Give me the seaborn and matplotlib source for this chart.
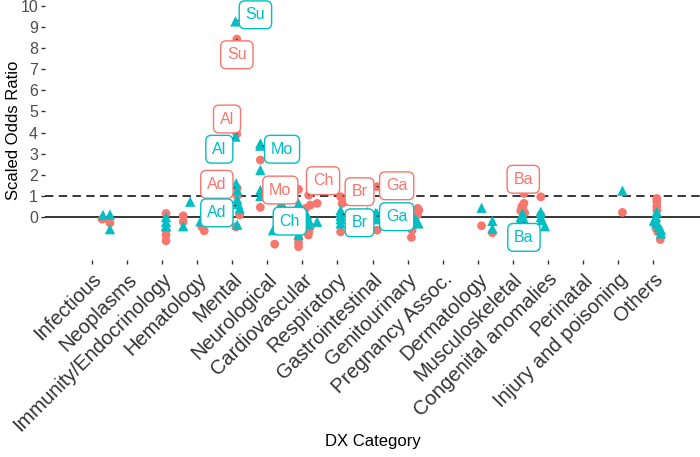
import numpy as np
import pandas as pd
import seaborn as sns
from matplotlib import pyplot as plt

categories = [
    "Infectious", "Neoplasms", "Immunity/Endocrinology", "Hematology", "Mental",
    "Neurological", "Cardiovascular", "Respiratory", "Gastrointestinal",
    "Genitourinary", "Pregnancy Assoc.", "Dermatology", "Musculoskeletal",
    "Congenital anomalies", "Perinatal", "Injury and poisoning", "Others",
]

# red series (circles): category, jitter, scaled odds ratio
red_cat = (["Infectious"] * 2 + ["Immunity/Endocrinology"] * 4 + ["Hematology"] * 4
           + ["Mental"] * 6 + ["Neurological"] * 3 + ["Cardiovascular"] * 12
           + ["Respiratory"] * 4 + ["Gastrointestinal"] * 2 + ["Genitourinary"] * 5
           + ["Dermatology"] * 2 + ["Musculoskeletal"] * 6 + ["Congenital anomalies"] * 2
           + ["Injury and poisoning"] + ["Others"] * 7)
red_jit = [0.29, 0.51,
           0.11, 0.11, 0.11, 0.11,
           -0.40, -0.40, 0.13, 0.20,
           0.13, 0.13, 0.14, 0.14, 0.21, 0.11,
           -0.20, -0.20, 0.21,
           -0.11, -0.11, 0.18, 0.23, 0.42, 0.09, -0.11, -0.11, -0.11, 0.23, 0.18, 0.17,
           0.09, 0.13, 0.28, 0.09,
           0.13, 0.13,
           0.32, 0.28, 0.13, 0.11, 0.29,
           0.11, 0.42,
           0.32, 0.32, 0.26, 0.29, 0.23, 0.34,
           -0.20, -0.20,
           0.13,
           0.11, 0.11, 0.11, 0.11, 0.09, 0.21, 0.14]
red_or = [-0.10, -0.27,
          0.17, -0.62, -0.85, -1.12,
          0.06, -0.22, -0.46, -0.65,
          8.42, 3.93, 1.36, 1.00, 0.10, -0.46,
          2.70, 0.46, -1.28,
          1.31, 0.41, 1.04, 0.57, 0.65, 0.41, -1.00, -1.20, -1.40, -0.46, -0.70, -0.85,
          0.96, 0.65, 0.73, -0.70,
          1.44, -0.62,
          0.33, 0.10, -0.62, -0.96, 0.41,
          -0.41, -0.74,
          1.12, 0.65, 0.50, 0.40, 0.30, 0.20,
          0.96, 0.10,
          0.22,
          0.88, 0.73, 0.52, 0.33, -0.54, -1.06, -0.70]

# teal series (triangles)
teal_cat = (["Infectious"] * 3 + ["Immunity/Endocrinology"] * 3 + ["Hematology"] * 3
            + ["Mental"] * 8 + ["Neurological"] * 7 + ["Cardiovascular"] * 8
            + ["Respiratory"] * 5 + ["Gastrointestinal"] * 5 + ["Genitourinary"] * 4
            + ["Dermatology"] * 3 + ["Musculoskeletal"] * 5 + ["Congenital anomalies"] * 4
            + ["Injury and poisoning"] + ["Others"] * 8)
teal_jit = [0.31, 0.51, 0.51,
            0.11, 0.11, 0.11,
            -0.40, -0.20, 0.09,
            0.09, 0.09, 0.11, 0.14, 0.14, 0.17, 0.21, 0.14,
            -0.20, -0.20, -0.20, -0.20, -0.20, 0.16, 0.40,
            -0.11, 0.13, 0.18, 0.42, -0.11, -0.06, 0.17, -0.11,
            0.09, 0.09, 0.09, 0.09, 0.09,
            -0.15, 0.13, 0.13, 0.13, 0.09,
            0.28, 0.23, 0.31, 0.17,
            0.11, 0.42, 0.42,
            0.28, 0.23, 0.31, 0.37, 0.20,
            -0.20, -0.20, -0.08, -0.17,
            0.13,
            0.11, 0.09, 0.03, 0.11, 0.17, 0.23, 0.23, 0.06]
teal_or = [0.10, 0.12, -0.57,
           0.00, -0.22, -0.43,
           -0.43, 0.73, -0.20,
           9.26, 3.81, 1.60, 1.28, 0.84, 0.62, 0.41, -0.36,
           3.49, 3.38, 2.23, 1.28, 1.00, -0.62, 0.70,
           0.65, 0.10, -0.14, -0.22, -0.85, 0.00, -0.35, -0.50,
           0.33, 0.20, 0.05, -0.10, -0.30,
           0.25, 0.17, 0.05, -0.10, 0.20,
           -0.22, -0.10, -0.30, -0.20,
           0.44, -0.18, -0.54,
           0.17, 0.00, -0.10, -0.27, -0.20,
           0.25, 0.00, -0.43, -0.15,
           1.25,
           0.25, 0.00, -0.15, -0.30, -0.45, -0.60, -0.77, -0.20]

# repelled labels: text, series, category, jitter and value of labelled point, box offset
lab_text = ["Su", "Su", "Al", "Al", "Ad", "Ad", "Mo", "Mo", "Ch", "Ch",
            "Br", "Br", "Ga", "Ga", "Ba", "Ba"]
lab_group = ["teal", "red", "red", "teal", "red", "teal", "teal", "red", "teal", "red",
             "red", "teal", "red", "teal", "red", "teal"]
lab_cat = ["Mental", "Mental", "Mental", "Mental", "Mental", "Mental",
           "Neurological", "Neurological", "Cardiovascular", "Cardiovascular",
           "Respiratory", "Respiratory", "Gastrointestinal", "Gastrointestinal",
           "Musculoskeletal", "Musculoskeletal"]
lab_jit = [0.09, 0.13, 0.13, 0.09, 0.14, 0.17, -0.20, 0.37, 0.13, 0.18,
           0.09, 0.09, 0.13, 0.13, 0.32, 0.32]
lab_val = [9.26, 8.42, 3.93, 3.81, 1.36, 0.62, 3.38, 1.28, 0.10, 1.04,
           0.96, 0.20, 1.44, 0.05, 1.12, -0.27]
lab_dx = [0.57, 0.0, -0.28, -0.46, -0.58, -0.61, 0.62, 0.0, -0.49, 0.41,
          0.54, 0.54, 0.56, 0.56, -0.02, 0.0]
lab_dy = [0.31, -0.74, 0.71, -0.60, 0.19, -0.42, -0.17, 0.0, -0.29, 0.68,
          0.24, -0.47, 0.04, -0.03, 0.67, -0.69]

colors = {"red": "#F8766D", "teal": "#00BFC4"}

df = pd.concat([
    pd.DataFrame({"cat": red_cat, "jit": red_jit, "or": red_or, "group": "red"}),
    pd.DataFrame({"cat": teal_cat, "jit": teal_jit, "or": teal_or, "group": "teal"}),
])
df["xpos"] = df["cat"].map(categories.index) + df["jit"]

sns.set_style("ticks")
plt.rcParams["font.family"] = ["Liberation Sans", "DejaVu Sans"]

fig = plt.figure(figsize=(7, 4.57), dpi=100)
ax = fig.add_axes([45 / 700, 1 - 260 / 457, 655 / 700, 260 / 457])

ax.axhline(0, color="black", lw=1.1, zorder=1)
ax.axhline(1, color="black", lw=1.1, ls=(0, (5.5, 3.5)), zorder=1)

sns.scatterplot(
    data=df, x="xpos", y="or", hue="group", style="group", size="group",
    palette=colors, markers={"red": "o", "teal": "^"}, sizes={"red": 40, "teal": 55},
    linewidth=0, alpha=1, legend=False, ax=ax, zorder=2,
)

for txt, grp, cat, jit, val, dx, dy in zip(lab_text, lab_group, lab_cat, lab_jit,
                                          lab_val, lab_dx, lab_dy):
    px = categories.index(cat) + jit
    show_seg = not (dx == 0 and dy == 0)
    ax.annotate(
        txt, xy=(px, val), xytext=(px + dx, val + dy),
        ha="center", va="center", fontsize=11.5, color=colors[grp], zorder=5,
        bbox=dict(boxstyle="round,pad=0.4,rounding_size=0.35", fc="white",
                  ec=colors[grp], lw=1),
        arrowprops=dict(arrowstyle="-", color="#333333", lw=1, shrinkA=0, shrinkB=2)
        if show_seg else None,
    )

ax.set_xlim(-1.343, 17.343)
ax.set_ylim(-2.03, 10.27)
ax.set_yticks(range(0, 11))
ax.set_xticks(range(len(categories)))
ax.set_xticklabels(categories, rotation=45, ha="right", va="top",
                   rotation_mode="anchor", fontsize=14.5, color="#4D4D4D")
ax.tick_params(axis="y", labelsize=11.5, colors="#333333", labelcolor="#4D4D4D",
               length=3, width=1, pad=2)
ax.tick_params(axis="x", colors="#333333", length=3, width=1, pad=4)
sns.despine(ax=ax, left=True, bottom=True)

ax.set_ylabel("Scaled Odds Ratio", fontsize=12, color="black")
ax.yaxis.set_label_coords(-0.036, 0.5)
ax.set_xlabel("DX Category", fontsize=12, color="black")
ax.xaxis.set_label_coords(0.5, -0.67)

fig.savefig("out.png", dpi=100)
